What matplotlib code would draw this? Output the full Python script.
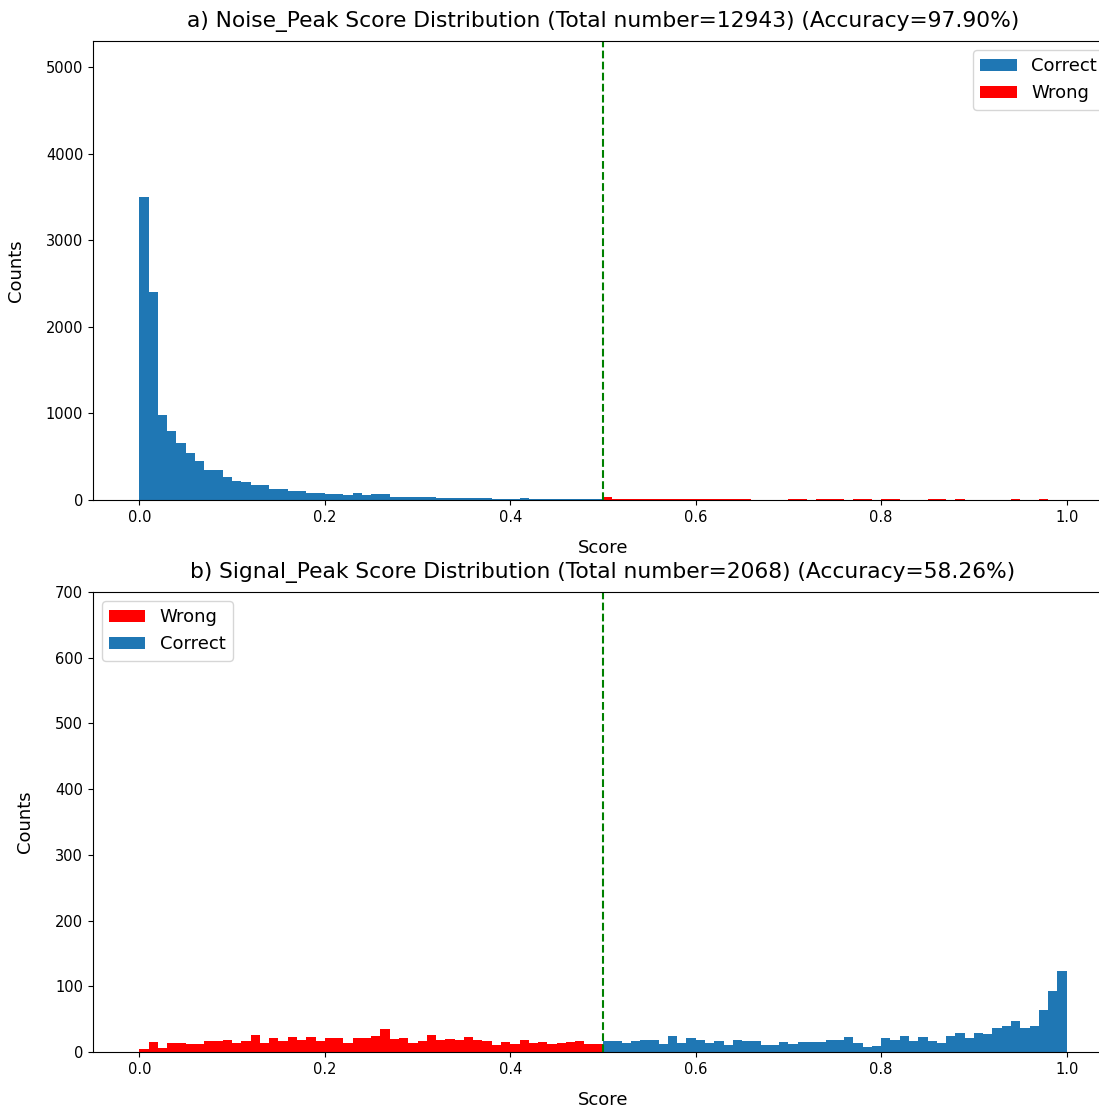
import numpy as np
import matplotlib
matplotlib.use("Agg")
import matplotlib.pyplot as plt
from matplotlib.transforms import Bbox

# Histogram bin edges: 100 bins of width 0.01 on [0, 1]
bin_edges = np.linspace(0.0, 1.0, 101)
threshold = 0.5

# a) Noise peaks: counts per bin (bins 0.00-0.49 correct, 0.50-0.99 wrong)
noise_correct = [3500, 2400, 978, 800, 660, 545, 450, 345, 345, 268,
                 222, 206, 178, 178, 132, 132, 102, 102, 86, 86,
                 73, 73, 52, 82, 55, 73, 66, 37, 37, 37,
                 37, 37, 22, 22, 22, 22, 22, 22, 15, 15,
                 15, 24, 12, 12, 12, 12, 12, 12, 12, 12]
noise_wrong = [30, 10, 9, 9, 8, 8, 8, 7, 7, 7,
               7, 7, 6, 6, 6, 6, 5, 5, 5, 4,
               8, 8, 0, 8, 8, 8, 0, 8, 8, 0,
               8, 8, 0, 0, 0, 8, 8, 0, 8, 0,
               0, 0, 0, 0, 8, 0, 0, 8, 0, 0]

# b) Signal peaks: counts per bin (bins 0.00-0.49 wrong, 0.50-0.99 correct)
signal_wrong = [4, 15, 6, 14, 13, 12, 12, 17, 16, 19,
                13, 16, 26, 13, 22, 17, 23, 18, 23, 16,
                21, 22, 14, 21, 22, 25, 35, 20, 21, 14,
                16, 26, 19, 20, 19, 23, 18, 17, 10, 15,
                12, 19, 14, 15, 12, 14, 15, 17, 12, 12]
signal_correct = [16, 16, 14, 16, 18, 18, 12, 24, 13, 22,
                  18, 14, 16, 10, 18, 16, 16, 10, 10, 15,
                  12, 15, 15, 15, 19, 19, 23, 13, 7, 9,
                  21, 19, 25, 17, 23, 17, 13, 25, 29, 21,
                  29, 27, 37, 39, 47, 37, 39, 64, 93, 124]

titles = [
    "a) Noise_Peak Score Distribution (Total number=12943) (Accuracy=97.90%)",
    "b) Signal_Peak Score Distribution (Total number=2068) (Accuracy=58.26%)",
]
ylims = [5300, 700]

BLUE = "#1f77b4"
RED = "red"

# The canvas is drawn a little wider than the saved image, so the right
# edge of both panels falls just outside the saved area.
W, H = 1130, 1107
fig = plt.figure(figsize=(W / 100, H / 100), dpi=100)
ax_a = fig.add_axes([93 / W, 607 / H, 1020 / W, 459 / H])
ax_b = fig.add_axes([93 / W, 55 / H, 1020 / W, 460 / H])

lo_centers = bin_edges[:50] + 0.005
hi_centers = bin_edges[50:100] + 0.005

# Noise panel: correct first, then wrong
ax_a.hist(lo_centers, bins=bin_edges, weights=noise_correct, color=BLUE, label="Correct")
ax_a.hist(hi_centers, bins=bin_edges, weights=noise_wrong, color=RED, label="Wrong")
ax_a.legend(loc="upper right", fontsize=13)

# Signal panel: wrong first, then correct
ax_b.hist(lo_centers, bins=bin_edges, weights=signal_wrong, color=RED, label="Wrong")
ax_b.hist(hi_centers, bins=bin_edges, weights=signal_correct, color=BLUE, label="Correct")
ax_b.legend(loc="upper left", fontsize=13)

for ax, title, ytop in zip([ax_a, ax_b], titles, ylims):
    ax.axvline(threshold, color="green", linestyle="--", linewidth=1.5)
    ax.set_xlim(-0.05, 1.05)
    ax.set_ylim(0, ytop)
    ax.spines["right"].set_visible(False)
    ax.set_title(title, fontsize=15.7, pad=10)
    ax.set_xlabel("Score", fontsize=13, labelpad=10)
    ax.set_ylabel("Counts", fontsize=13, labelpad=15)
    ax.tick_params(labelsize=10.5)

fig.savefig("out.png", dpi=100, bbox_inches=Bbox.from_bounds(0, 0, 10.99, 11.07))
